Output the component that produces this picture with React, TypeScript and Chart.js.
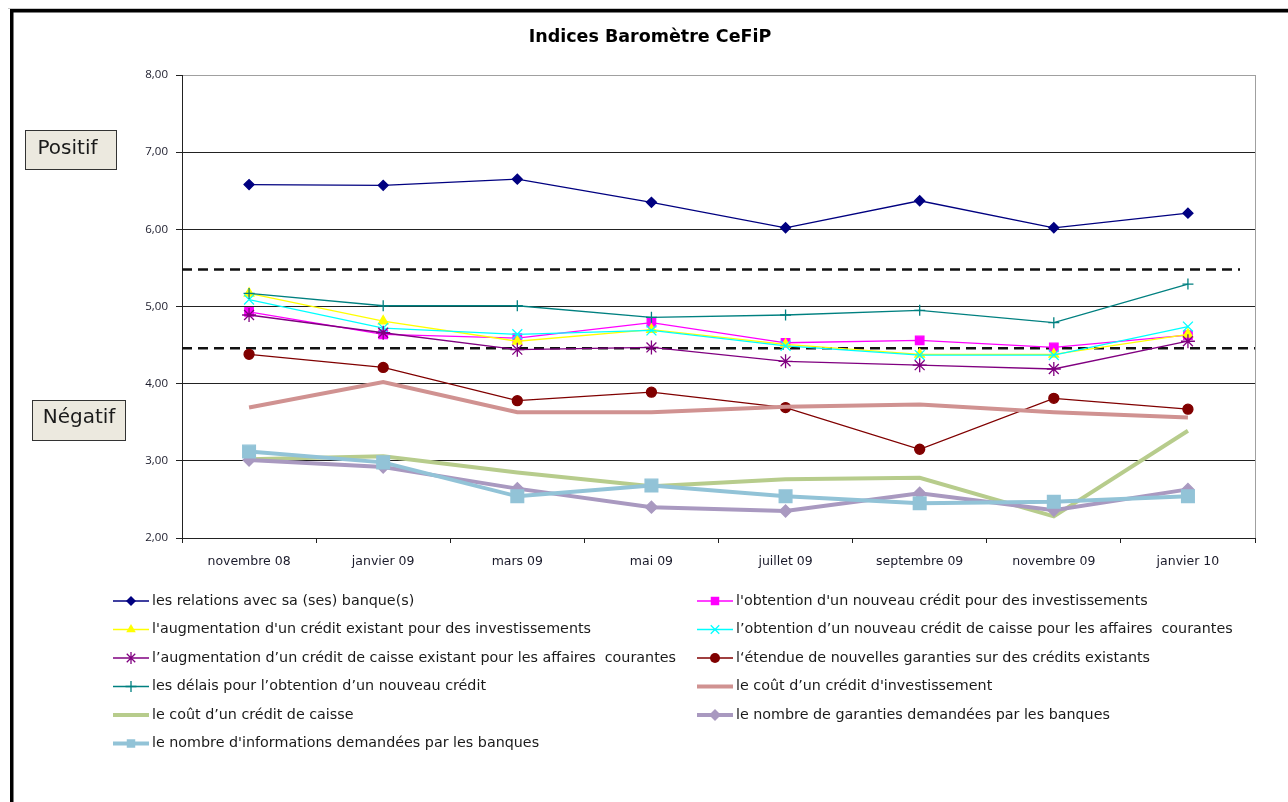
import React, { useEffect, useRef } from "react";
import { Chart, registerables } from "chart.js";

Chart.register(...registerables);

const categories = [
  "novembre 08",
  "janvier 09",
  "mars 09",
  "mai 09",
  "juillet 09",
  "septembre 09",
  "novembre 09",
  "janvier 10",
];

const relationsBanque = [6.58, 6.57, 6.65, 6.35, 6.02, 6.37, 6.02, 6.21];
const nouveauCreditInvest = [4.93, 4.64, 4.59, 4.79, 4.53, 4.56, 4.47, 4.63];
const augmentationCreditInvest = [5.17, 4.81, 4.55, 4.7, 4.51, 4.38, 4.38, 4.64];
const nouveauCreditCaisse = [5.09, 4.72, 4.64, 4.69, 4.49, 4.37, 4.37, 4.74];
const augmentationCreditCaisse = [4.89, 4.66, 4.44, 4.47, 4.29, 4.24, 4.19, 4.55];
const etendueGaranties = [4.38, 4.21, 3.78, 3.89, 3.69, 3.15, 3.81, 3.67];
const delaisNouveauCredit = [5.17, 5.01, 5.01, 4.86, 4.89, 4.95, 4.79, 5.29];
const coutCreditInvest = [3.69, 4.02, 3.63, 3.63, 3.7, 3.73, 3.63, 3.56];
const coutCreditCaisse = [3.02, 3.06, 2.85, 2.67, 2.76, 2.78, 2.28, 3.39];
const nombreGaranties = [3.01, 2.92, 2.64, 2.4, 2.35, 2.58, 2.36, 2.63];
const nombreInformations = [3.12, 2.98, 2.54, 2.68, 2.54, 2.45, 2.47, 2.54];

const referenceLines = [5.48, 4.46];
const yMin = 2;
const yMax = 8;
const yStep = 1;

const titleText = "Indices Baromètre CeFiP";
const zoneLabels = ["Positif", "Négatif"];

const FONT = "'DejaVu Sans', 'Open Sans', sans-serif";
const FONT_SMALL = "'Open Sans', 'DejaVu Sans', sans-serif";

type Series = {
  label: string;
  data: number[];
  color: string;
  width: number;
  style: string | null;
  radius: number;
};

const series: Series[] = [
  { label: "les relations avec sa (ses) banque(s)", data: relationsBanque, color: "#000080", width: 1.3, style: "rectRot", radius: 5 },
  { label: "l'obtention d'un nouveau crédit pour des investissements", data: nouveauCreditInvest, color: "#FF00FF", width: 1.3, style: "rect", radius: 6 },
  { label: "l'augmentation d'un crédit existant pour des investissements", data: augmentationCreditInvest, color: "#FFFF00", width: 1.3, style: "triangle", radius: 5.5 },
  { label: "l’obtention d’un nouveau crédit de caisse pour les affaires  courantes", data: nouveauCreditCaisse, color: "#00FFFF", width: 1.3, style: "crossRot", radius: 7 },
  { label: "l’augmentation d’un crédit de caisse existant pour les affaires  courantes", data: augmentationCreditCaisse, color: "#800080", width: 1.3, style: "star", radius: 7 },
  { label: "l‘étendue de nouvelles garanties sur des crédits existants", data: etendueGaranties, color: "#800000", width: 1.3, style: "circle", radius: 5 },
  { label: "les délais pour l’obtention d’un nouveau crédit", data: delaisNouveauCredit, color: "#008080", width: 1.3, style: "cross", radius: 5.5 },
  { label: "le coût d’un crédit d'investissement", data: coutCreditInvest, color: "#D09291", width: 4, style: null, radius: 0 },
  { label: "le coût d’un crédit de caisse", data: coutCreditCaisse, color: "#B7CC8C", width: 4, style: null, radius: 0 },
  { label: "le nombre de garanties demandées par les banques", data: nombreGaranties, color: "#A999C0", width: 4, style: "rectRot", radius: 6 },
  { label: "le nombre d'informations demandées par les banques", data: nombreInformations, color: "#92C3D7", width: 4, style: "rect", radius: 9 },
];

function drawMarker(ctx: CanvasRenderingContext2D, style: string | null, x: number, y: number, r: number, color: string) {
  if (!style || r <= 0) return;
  ctx.save();
  ctx.fillStyle = color;
  ctx.strokeStyle = color;
  ctx.lineWidth = 1.3;
  ctx.setLineDash([]);
  ctx.beginPath();
  const q = Math.SQRT1_2 * r;
  switch (style) {
    case "rect":
      ctx.rect(x - q, y - q, 2 * q, 2 * q);
      ctx.fill();
      break;
    case "rectRot":
      ctx.moveTo(x, y - r);
      ctx.lineTo(x + r, y);
      ctx.lineTo(x, y + r);
      ctx.lineTo(x - r, y);
      ctx.closePath();
      ctx.fill();
      break;
    case "triangle":
      ctx.moveTo(x, y - r);
      ctx.lineTo(x + r * 0.87, y + r * 0.5);
      ctx.lineTo(x - r * 0.87, y + r * 0.5);
      ctx.closePath();
      ctx.fill();
      break;
    case "circle":
      ctx.arc(x, y, r, 0, Math.PI * 2);
      ctx.fill();
      break;
    case "cross":
      ctx.moveTo(x, y - r);
      ctx.lineTo(x, y + r);
      ctx.moveTo(x - r, y);
      ctx.lineTo(x + r, y);
      ctx.stroke();
      break;
    case "crossRot":
      ctx.moveTo(x - q, y - q);
      ctx.lineTo(x + q, y + q);
      ctx.moveTo(x - q, y + q);
      ctx.lineTo(x + q, y - q);
      ctx.stroke();
      break;
    case "star":
      ctx.moveTo(x - q, y - q);
      ctx.lineTo(x + q, y + q);
      ctx.moveTo(x - q, y + q);
      ctx.lineTo(x + q, y - q);
      ctx.moveTo(x, y - r);
      ctx.lineTo(x, y + r);
      ctx.stroke();
      break;
  }
  ctx.restore();
}

const decorPlugin = {
  id: "decor",
  beforeDraw(chart: any) {
    const ctx: CanvasRenderingContext2D = chart.ctx;
    ctx.save();
    ctx.fillStyle = "#ffffff";
    ctx.fillRect(0, 0, chart.width, chart.height);
    // outer frame
    ctx.strokeStyle = "#c8c8c8";
    ctx.lineWidth = 1;
    ctx.beginPath();
    ctx.moveTo(8, 8.5);
    ctx.lineTo(chart.width, 8.5);
    ctx.stroke();
    ctx.fillStyle = "#000000";
    ctx.fillRect(10, 9, chart.width - 10, 3.5);
    ctx.fillRect(10, 9, 3.5, chart.height - 9);
    // title
    ctx.fillStyle = "#000000";
    ctx.font = `bold 17.5px ${FONT}`;
    ctx.textAlign = "center";
    ctx.textBaseline = "middle";
    ctx.fillText(titleText, 650, 37);
    // zone boxes
    const boxes = [
      { text: zoneLabels[0], x: 25.5, y: 130.5, w: 91, h: 39, dx: -3.5, dy: -1.5 },
      { text: zoneLabels[1], x: 32.5, y: 400.5, w: 93, h: 40, dx: 0, dy: -3 },
    ];
    ctx.font = `20px ${FONT}`;
    for (const b of boxes) {
      ctx.fillStyle = "#ECE9DF";
      ctx.fillRect(b.x, b.y, b.w, b.h);
      ctx.strokeStyle = "#333333";
      ctx.lineWidth = 1;
      ctx.strokeRect(b.x, b.y, b.w, b.h);
      ctx.fillStyle = "#1a1a1a";
      ctx.fillText(b.text, b.x + b.w / 2 + b.dx, b.y + b.h / 2 + b.dy);
    }
    ctx.restore();
  },
  beforeDatasetsDraw(chart: any) {
    const ctx: CanvasRenderingContext2D = chart.ctx;
    const area = chart.chartArea;
    const yScale = chart.scales.y;
    ctx.save();
    // right border of plot
    ctx.strokeStyle = "#a0a0a0";
    ctx.lineWidth = 1;
    ctx.beginPath();
    ctx.moveTo(Math.round(area.right) + 0.5, area.top);
    ctx.lineTo(Math.round(area.right) + 0.5, area.bottom);
    ctx.stroke();
    // dashed reference lines
    ctx.strokeStyle = "#111111";
    ctx.lineWidth = 2.5;
    ctx.setLineDash([10, 6]);
    referenceLines.forEach((v, i) => {
      const y = yScale.getPixelForValue(v);
      ctx.beginPath();
      ctx.moveTo(area.left, y);
      ctx.lineTo(i === 0 ? area.right - 15 : area.right, y);
      ctx.stroke();
    });
    ctx.restore();
  },
  afterDraw(chart: any) {
    const ctx: CanvasRenderingContext2D = chart.ctx;
    ctx.save();
    ctx.font = `14.3px ${FONT}`;
    ctx.textAlign = "left";
    ctx.textBaseline = "middle";
    const rowY = [601, 629.5, 658, 686.5, 715, 743.5];
    chart.data.datasets.forEach((ds: any, i: number) => {
      const s = series[i];
      const col = i % 2;
      const row = Math.floor(i / 2);
      const x0 = col === 0 ? 113 : 697;
      const y = rowY[row];
      ctx.strokeStyle = s.color;
      ctx.lineWidth = s.width;
      ctx.setLineDash([]);
      ctx.beginPath();
      ctx.moveTo(x0, y);
      ctx.lineTo(x0 + 36, y);
      ctx.stroke();
      drawMarker(ctx, s.style, x0 + 18, y, Math.min(s.radius, 6), s.color);
      ctx.fillStyle = "#1a1a1a";
      ctx.fillText(ds.label, x0 + 39, y);
    });
    ctx.restore();
  },
};

export default function App() {
  const canvasRef = useRef<HTMLCanvasElement | null>(null);

  useEffect(() => {
    if (!canvasRef.current) return;
    const n = series.length;
    const chart = new Chart(canvasRef.current, {
      type: "line",
      data: {
        labels: categories,
        datasets: series.map((s, i) => ({
          label: s.label,
          data: s.data,
          borderColor: s.color,
          backgroundColor: s.color,
          borderWidth: s.width,
          pointStyle: (s.style || "circle") as any,
          pointRadius: s.radius,
          pointHoverRadius: s.radius,
          pointBorderWidth: 1.3,
          pointBorderColor: s.color,
          pointBackgroundColor: s.color,
          tension: 0,
          fill: false,
          order: n - i,
        })),
      },
      options: {
        responsive: false,
        animation: false,
        devicePixelRatio: 1,
        layout: { padding: { top: 75, left: 0, right: 33, bottom: 224 } },
        plugins: {
          legend: { display: false },
          title: { display: false },
          tooltip: { enabled: false },
        },
        scales: {
          x: {
            type: "category",
            offset: true,
            afterFit: (scale: any) => {
              scale.height = 40;
            },
            grid: {
              offset: true,
              drawOnChartArea: false,
              drawTicks: true,
              tickLength: 5,
              color: "#222222",
            },
            border: { display: true, color: "#222222", width: 1 },
            ticks: {
              color: "#1a1a2a",
              font: { family: FONT, size: 12.5 },
              padding: 11,
              maxRotation: 0,
              autoSkip: false,
            },
          },
          y: {
            min: yMin,
            max: yMax,
            afterFit: (scale: any) => {
              scale.width = 182;
            },
            grid: {
              color: (c: any) => (c.tick && c.tick.value === yMax ? "#a0a0a0" : "#222222"),
              tickColor: "#222222",
              drawTicks: true,
              tickLength: 6,
            },
            border: { display: true, color: "#222222", width: 1 },
            ticks: {
              stepSize: yStep,
              color: "#1a1a2a",
              font: { family: FONT_SMALL, size: 11.5 },
              padding: 8,
              callback: (v: any) => Number(v).toFixed(2).replace(".", ","),
            },
          },
        },
      },
      plugins: [decorPlugin],
    });
    return () => chart.destroy();
  }, []);

  return (
    <div style={{ position: "absolute", left: 0, top: 0, width: 1288, height: 802, background: "#fff" }}>
      <canvas ref={canvasRef} width={1288} height={802} style={{ display: "block", width: 1288, height: 802 }} />
    </div>
  );
}
